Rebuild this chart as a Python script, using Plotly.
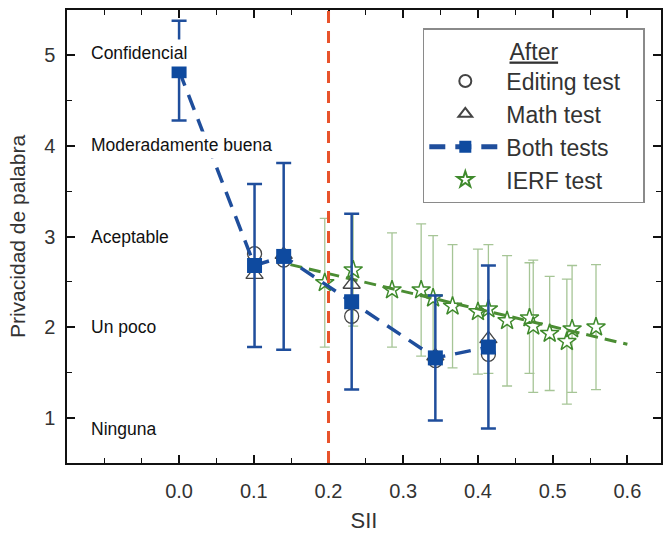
import plotly.graph_objects as go

# ---- data ----
sii_both = [0.0, 0.101, 0.140, 0.231, 0.343, 0.414]
both = [4.83, 2.68, 2.78, 2.28, 1.66, 1.78]
both_err = [0.55, 0.90, 1.03, 0.97, 0.69, 0.90]

sii_edit = [0.101, 0.140, 0.231, 0.343, 0.414]
edit = [2.81, 2.74, 2.12, 1.63, 1.70]

sii_math = [0.101, 0.140, 0.231, 0.343, 0.414]
math_t = [2.58, 2.80, 2.47, 1.68, 1.87]

sii_ierf = [0.195, 0.233, 0.285, 0.324, 0.340, 0.366, 0.400, 0.414,
            0.439, 0.469, 0.474, 0.496, 0.519, 0.526, 0.558]
ierf = [2.49, 2.63, 2.41, 2.41, 2.32, 2.23, 2.17, 2.20,
        2.07, 2.10, 2.01, 1.93, 1.84, 1.98, 2.00]
ierf_err = [0.71, 0.62, 0.63, 0.73, 0.69, 0.68, 0.69, 0.71,
            0.72, 0.61, 0.73, 0.63, 0.69, 0.70, 0.69]

trend_x = [0.149, 0.600]
trend_y = [2.69, 1.81]

sii_threshold = 0.2

x_tickvals = [0.0, 0.1, 0.2, 0.3, 0.4, 0.5, 0.6]
x_ticktext = ["0.0", "0.1", "0.2", "0.3", "0.4", "0.5", "0.6"]
x_minor = [-0.1, -0.05, 0.05, 0.15, 0.25, 0.35, 0.45, 0.55]
y_tickvals = [1, 2, 3, 4, 5]
y_minor = [1.5, 2.5, 3.5, 4.5]

level_labels = ["Confidencial", "Moderadamente buena", "Aceptable", "Un poco", "Ninguna"]
level_y = [5.03, 4.01, 3.0, 2.0, 0.88]
level_x = -0.123

BLUE = "#1f4e9c"
SQUARE = "#0e4a9f"
GREEN = "#3f8a2c"
GREEN_ERR = "#a6c596"
GRAY = "#444444"
RED = "#e8532b"
FONT = "Liberation Sans, Arial, sans-serif"

fig = go.Figure()

fig.add_trace(go.Scatter(
    x=sii_ierf, y=ierf, mode="markers", name="IERF test", legendrank=4,
    marker=dict(symbol="star", size=14, color="white", line=dict(color=GREEN, width=1.5)),
    error_y=dict(type="data", array=ierf_err, color=GREEN_ERR, thickness=1.3, width=5),
))
fig.add_trace(go.Scatter(
    x=trend_x, y=trend_y, mode="lines", showlegend=False,
    line=dict(color="#4b8d33", width=3, dash="12px,7px"),
))
fig.add_trace(go.Scatter(
    x=sii_edit, y=edit, mode="markers", name="Editing test", legendrank=1,
    marker=dict(symbol="circle-open", size=14, color=GRAY, line=dict(width=1.3)),
))
fig.add_trace(go.Scatter(
    x=sii_math, y=math_t, mode="markers", name="Math test", legendrank=2,
    marker=dict(symbol="triangle-up-open", size=15, color=GRAY, line=dict(width=1.3)),
))
fig.add_trace(go.Scatter(
    x=sii_both, y=both, mode="lines+markers", name="Both tests", legendrank=3,
    line=dict(color=BLUE, width=3.5, dash="16px,10px"),
    marker=dict(symbol="square", size=15, color=SQUARE),
    error_y=dict(type="data", array=both_err, color=BLUE, thickness=2.5, width=7.5),
))

fig.add_vline(x=sii_threshold, line=dict(color=RED, width=3, dash="12px,8px"))

for txt, yy in zip(level_labels, level_y):
    fig.add_annotation(
        x=level_x, y=yy, xref="x", yref="y", text=txt, showarrow=False,
        xanchor="left", yanchor="middle", bgcolor="white", borderpad=3,
        font=dict(family=FONT, size=17.5, color="#111111"),
    )

axis_common = dict(
    showgrid=False, zeroline=False, showline=True, linecolor="#111111", linewidth=1.5,
    mirror="ticks", ticks="inside", ticklen=8, tickwidth=1.5, tickcolor="#111111",
    automargin=False,
)

fig.update_xaxes(
    range=[-0.15, 0.645], tickvals=x_tickvals, ticktext=x_ticktext,
    minor=dict(tickvals=x_minor, ticks="inside", ticklen=5, tickwidth=1.3, tickcolor="#111111"),
    tickfont=dict(family=FONT, size=20, color="#333333"), ticklabelstandoff=9,
    title=dict(text="SII", font=dict(family=FONT, size=22, color="#333333"), standoff=12),
    **axis_common,
)
fig.update_yaxes(
    range=[0.5, 5.5], tickvals=y_tickvals,
    minor=dict(tickvals=y_minor, ticks="inside", ticklen=5, tickwidth=1.3, tickcolor="#111111"),
    tickfont=dict(family=FONT, size=20, color="#333333"), ticklabelstandoff=6,
    title=dict(text="Privacidad de palabra", font=dict(family=FONT, size=21, color="#333333"), standoff=13),
    **axis_common,
)

pad = "&nbsp;" * 13
fig.update_layout(
    width=669, height=534,
    margin=dict(l=67, r=8, t=10, b=71),
    paper_bgcolor="white", plot_bgcolor="white",
    font=dict(family=FONT, color="#333333"),
    legend=dict(
        x=0.599, y=0.96, xanchor="left", yanchor="top",
        bgcolor="white", bordercolor="#8a8a8a", borderwidth=1.5,
        font=dict(family=FONT, size=23, color="#333333"),
        title=dict(text=pad + "<u>After</u>" + pad, side="top center",
                   font=dict(family=FONT, size=23, color="#333333")),
        itemsizing="constant", itemwidth=72,
    ),
)

fig.write_html("out.html")
